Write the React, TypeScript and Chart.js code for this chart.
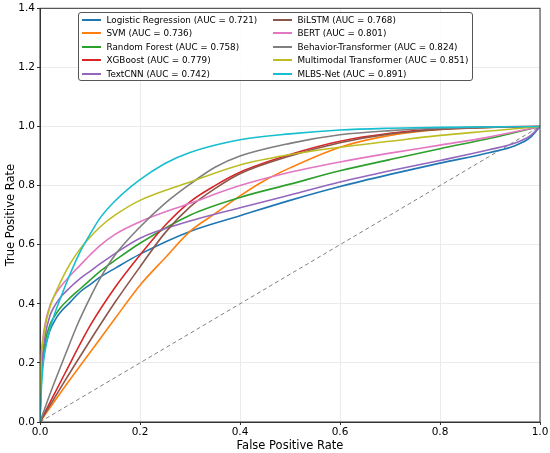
import { useEffect, useRef } from 'react';
import { Chart, registerables } from 'chart.js';

Chart.register(...registerables);

const FONT = "'DejaVu Sans', 'Liberation Sans', sans-serif";

const modelNames = [
  'Logistic Regression',
  'SVM',
  'Random Forest',
  'XGBoost',
  'TextCNN',
  'BiLSTM',
  'BERT',
  'Behavior-Transformer',
  'Multimodal Transformer',
  'MLBS-Net',
];
const aucValues = [0.721, 0.736, 0.758, 0.779, 0.742, 0.768, 0.801, 0.824, 0.851, 0.891];
const lineColors = [
  '#1f77b4', '#ff7f0e', '#2ca02c', '#d62728', '#9467bd',
  '#8c564b', '#e377c2', '#7f7f7f', '#bcbd22', '#17becf',
];

// ROC points (FPR, TPR)
const fprLR = [0, 0.002, 0.005, 0.01, 0.02, 0.03, 0.04, 0.06, 0.08, 0.1, 0.12, 0.15, 0.2, 0.3, 0.4, 0.5, 0.6, 0.7, 0.8, 0.9, 0.95, 0.98, 1];
const tprLR = [0, 0.13, 0.19, 0.25, 0.31, 0.345, 0.37, 0.405, 0.44, 0.465, 0.49, 0.52, 0.568, 0.645, 0.698, 0.75, 0.797, 0.838, 0.876, 0.912, 0.935, 0.962, 1];

const fprSVM = [0, 0.05, 0.1, 0.15, 0.2, 0.25, 0.3, 0.35, 0.4, 0.45, 0.5, 0.6, 0.7, 0.8, 0.9, 1];
const tprSVM = [0, 0.12, 0.235, 0.35, 0.463, 0.555, 0.645, 0.705, 0.765, 0.818, 0.86, 0.93, 0.97, 0.99, 0.997, 1];

const fprRF = [0, 0.002, 0.005, 0.01, 0.02, 0.03, 0.04, 0.06, 0.08, 0.1, 0.12, 0.15, 0.2, 0.3, 0.4, 0.5, 0.6, 0.7, 0.8, 0.9, 1];
const tprRF = [0, 0.15, 0.21, 0.27, 0.33, 0.36, 0.385, 0.42, 0.45, 0.48, 0.51, 0.547, 0.605, 0.7, 0.76, 0.805, 0.85, 0.888, 0.925, 0.96, 1];

const fprXGB = [0, 0.05, 0.1, 0.15, 0.2, 0.25, 0.3, 0.35, 0.4, 0.5, 0.6, 0.7, 0.8, 0.9, 1];
const tprXGB = [0, 0.165, 0.325, 0.455, 0.565, 0.665, 0.745, 0.8, 0.845, 0.905, 0.95, 0.977, 0.992, 0.998, 1];

const fprCNN = [0, 0.002, 0.005, 0.01, 0.02, 0.03, 0.04, 0.06, 0.08, 0.1, 0.12, 0.15, 0.2, 0.3, 0.4, 0.5, 0.6, 0.7, 0.8, 0.9, 0.95, 0.98, 1];
const tprCNN = [0, 0.15, 0.22, 0.29, 0.36, 0.395, 0.42, 0.455, 0.485, 0.51, 0.535, 0.57, 0.622, 0.68, 0.725, 0.768, 0.812, 0.85, 0.885, 0.922, 0.944, 0.968, 1];

const fprLSTM = [0, 0.05, 0.1, 0.15, 0.2, 0.25, 0.3, 0.35, 0.4, 0.5, 0.6, 0.7, 0.8, 0.9, 1];
const tprLSTM = [0, 0.14, 0.275, 0.405, 0.525, 0.64, 0.728, 0.79, 0.84, 0.9, 0.945, 0.975, 0.99, 0.997, 1];

const fprBERT = [0, 0.002, 0.005, 0.01, 0.02, 0.03, 0.04, 0.06, 0.08, 0.1, 0.12, 0.15, 0.2, 0.3, 0.4, 0.5, 0.6, 0.7, 0.8, 0.9, 1];
const tprBERT = [0, 0.2, 0.27, 0.33, 0.395, 0.43, 0.455, 0.495, 0.53, 0.565, 0.597, 0.635, 0.678, 0.74, 0.8, 0.845, 0.88, 0.91, 0.937, 0.965, 1];

const fprBT = [0, 0.02, 0.05, 0.075, 0.1, 0.12, 0.15, 0.2, 0.25, 0.3, 0.35, 0.4, 0.5, 0.6, 0.7, 0.8, 0.9, 1];
const tprBT = [0, 0.095, 0.225, 0.33, 0.42, 0.485, 0.565, 0.66, 0.74, 0.805, 0.862, 0.9, 0.943, 0.972, 0.986, 0.994, 0.998, 1];

const fprMM = [0, 0.002, 0.005, 0.01, 0.02, 0.04, 0.06, 0.08, 0.1, 0.12, 0.15, 0.2, 0.3, 0.4, 0.5, 0.6, 0.7, 0.8, 0.9, 1];
const tprMM = [0, 0.2, 0.26, 0.32, 0.39, 0.47, 0.535, 0.585, 0.625, 0.66, 0.7, 0.75, 0.812, 0.87, 0.905, 0.93, 0.95, 0.97, 0.985, 1];

const fprMLBS = [0, 0.003, 0.006, 0.01, 0.02, 0.03, 0.04, 0.06, 0.08, 0.1, 0.12, 0.15, 0.2, 0.25, 0.3, 0.4, 0.5, 0.6, 0.7, 0.8, 1];
const tprMLBS = [0, 0.12, 0.19, 0.24, 0.315, 0.37, 0.415, 0.5, 0.575, 0.635, 0.69, 0.748, 0.82, 0.875, 0.912, 0.955, 0.975, 0.988, 0.994, 0.997, 1];

const fprChance = [0, 1];
const tprChance = [0, 1];

const rocFpr = [fprLR, fprSVM, fprRF, fprXGB, fprCNN, fprLSTM, fprBERT, fprBT, fprMM, fprMLBS];
const rocTpr = [tprLR, tprSVM, tprRF, tprXGB, tprCNN, tprLSTM, tprBERT, tprBT, tprMM, tprMLBS];

const toPoints = (xs: number[], ys: number[]) => xs.map((x, i) => ({ x, y: ys[i] }));

// matplotlib-style box around the axes
const framePlugin = {
  id: 'axesFrame',
  afterDraw(chart: Chart) {
    const { ctx, chartArea: a } = chart;
    ctx.save();
    ctx.strokeStyle = '#333';
    ctx.lineWidth = 1;
    ctx.strokeRect(a.left, a.top, a.right - a.left, a.bottom - a.top);
    ctx.restore();
  },
};

function RocChart() {
  const canvasRef = useRef<HTMLCanvasElement>(null);

  useEffect(() => {
    if (!canvasRef.current) return;
    const ctx = canvasRef.current.getContext('2d');
    if (!ctx) return;

    const datasets: any[] = modelNames.map((name, i) => ({
      label: `${name} (AUC = ${aucValues[i].toFixed(3)})`,
      data: toPoints(rocFpr[i], rocTpr[i]),
      borderColor: lineColors[i],
      borderWidth: 1.6,
      pointRadius: 0,
      fill: false,
      cubicInterpolationMode: 'monotone',
      order: 20 - i,
    }));
    datasets.push({
      label: 'chance',
      data: toPoints(fprChance, tprChance),
      borderColor: '#808080',
      borderWidth: 1,
      borderDash: [4, 3],
      pointRadius: 0,
      fill: false,
      order: 50,
    });

    const chart = new Chart(ctx, {
      type: 'line',
      data: { datasets },
      plugins: [framePlugin],
      options: {
        responsive: false,
        animation: false,
        layout: { padding: { top: 0, right: 10, left: 0, bottom: 0 } },
        plugins: {
          legend: { display: false },
          tooltip: { enabled: false },
        },
        scales: {
          x: {
            type: 'linear',
            min: 0,
            max: 1,
            ticks: {
              stepSize: 0.2,
              color: '#000',
              padding: 1,
              font: { family: FONT, size: 10.5 },
              callback: (v: any) => Number(v).toFixed(1),
            },
            grid: { color: '#ebebeb', tickColor: '#333', tickLength: 3 },
            border: { color: '#333' },
            title: {
              display: true,
              text: 'False Positive Rate',
              color: '#000',
              font: { family: FONT, size: 11.5 },
              padding: { top: 0, bottom: 0 },
            },
            afterFit: (s: any) => { s.height = 31; },
          },
          y: {
            type: 'linear',
            min: 0,
            max: 1.4,
            ticks: {
              stepSize: 0.2,
              color: '#000',
              padding: 2,
              font: { family: FONT, size: 10.5 },
              callback: (v: any) => Number(v).toFixed(1),
            },
            grid: { color: '#ebebeb', tickColor: '#333', tickLength: 3 },
            border: { color: '#333' },
            title: {
              display: true,
              text: 'True Positive Rate',
              color: '#000',
              font: { family: FONT, size: 11.5 },
              padding: { top: 4, bottom: 0 },
            },
            afterFit: (s: any) => { s.width = 40; },
          },
        },
      },
    });

    return () => {
      chart.destroy();
    };
  }, []);

  return <canvas ref={canvasRef} width={550} height={453} style={{ width: 550, height: 453, display: 'block' }} />;
}

function InsetLegend() {
  return (
    <div
      style={{
        position: 'absolute',
        left: 78,
        top: 12,
        width: 395,
        height: 69,
        boxSizing: 'border-box',
        border: '1px solid #555',
        borderRadius: 3,
        background: 'rgba(255,255,255,0.9)',
        fontFamily: FONT,
        fontSize: 8.8,
        color: '#000',
      }}
    >
      {modelNames.map((name, i) => {
        const col = Math.floor(i / 5);
        const row = i % 5;
        return (
          <div
            key={name}
            style={{
              position: 'absolute',
              left: 3 + col * 191,
              top: row * 13.5,
              height: 13.5,
              display: 'flex',
              alignItems: 'center',
              whiteSpace: 'nowrap',
            }}
          >
            <span style={{ display: 'inline-block', width: 18.5, height: 2, background: lineColors[i], marginRight: 6 }} />
            <span>{`${name} (AUC = ${aucValues[i].toFixed(3)})`}</span>
          </div>
        );
      })}
    </div>
  );
}

export default function App() {
  useEffect(() => {
    document.body.style.margin = '0';
  }, []);

  return (
    <div style={{ position: 'relative', width: 550, height: 453, background: '#fff' }}>
      <RocChart />
      <InsetLegend />
    </div>
  );
}
